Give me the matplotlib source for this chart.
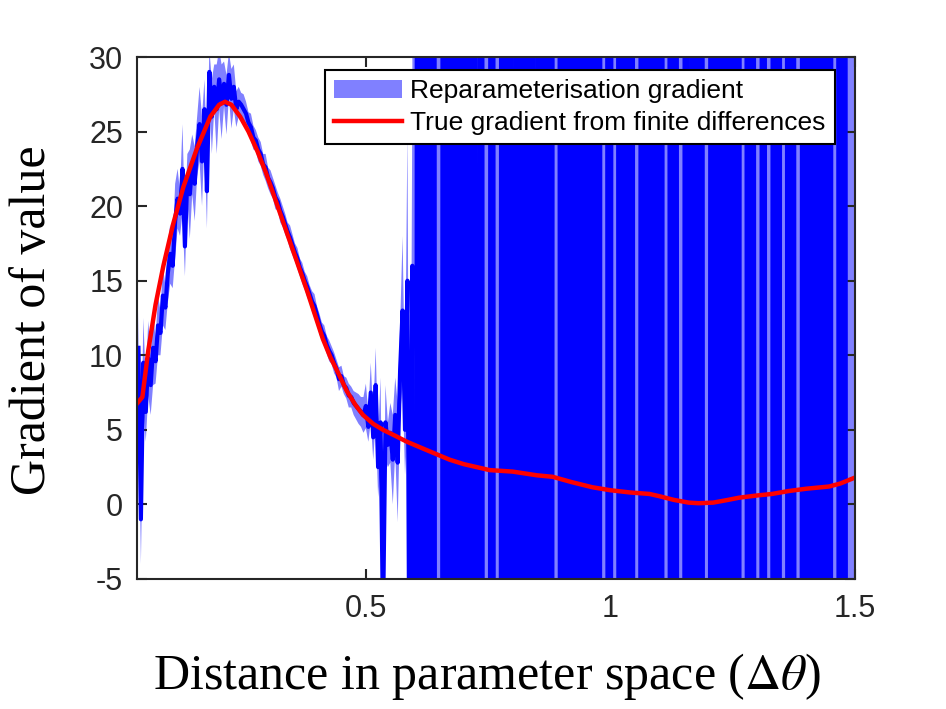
import numpy as np
import matplotlib.pyplot as plt

plt.rcParams['font.family'] = 'Liberation Sans'
plt.rcParams['mathtext.fontset'] = 'stix'
plt.rcParams['axes.unicode_minus'] = False

# sampled distances (smooth part, then the part where the estimator blows up)
dist_smooth = np.linspace(0.035, 0.595, 113)
dist_noisy = np.linspace(0.6, 1.5, 121)

# reparameterisation gradient: mean and spread
grad_mean_smooth = [
    10.5, -1.0, 9.5, 6.2, 9.8, 8.0, 10.5, 9.6, 12.0, 11.5,
    14.0, 13.2, 15.5, 16.8, 16.0, 19.0, 20.5, 19.5, 22.5, 17.3,
    22.0, 20.8, 22.8, 21.5, 24.0, 25.5, 23.0, 26.5, 21.0, 29.0,
    26.0, 28.0, 26.5, 28.5, 27.0, 28.2, 26.8, 28.8, 27.2, 28.0,
    26.5, 27.0, 26.8, 26.5, 26.2, 25.6, 25.3, 24.6, 24.4, 23.8,
    23.5, 22.8, 22.6, 21.9, 21.6, 21.2, 20.6, 20.3, 19.7, 19.3,
    18.8, 18.3, 17.9, 17.4, 16.9, 16.5, 15.9, 15.5, 15.0, 14.6,
    14.1, 13.6, 13.3, 12.7, 12.1, 11.6, 11.3, 10.7, 10.3, 10.0,
    9.5, 9.1, 8.4, 8.6, 8.0, 7.8, 7.3, 7.2, 6.8, 6.6,
    6.4, 6.2, 6.0, 6.6, 5.2, 7.5, 4.5, 8.0, 2.5, 5.5,
    -8.0, 5.5, 4.0, 4.8, 3.0, 6.0, 2.8, 9.0, 13.0, 5.0,
    15.0, -20.0, 16.0,
]
grad_spread_smooth = [
    2.5, 3.0, 3.0, 2.0, 2.5, 2.0, 2.5, 1.5, 2.0, 1.5,
    2.0, 1.5, 2.0, 2.0, 1.5, 2.5, 2.0, 1.5, 3.0, 2.0,
    1.5, 3.0, 2.0, 2.5, 2.0, 2.5, 3.0, 2.0, 2.5, 1.5,
    2.5, 1.5, 3.0, 2.0, 2.5, 1.5, 2.0, 1.5, 2.0, 1.5,
    1.2, 1.0, 0.8, 1.0, 0.8, 0.7, 0.9, 0.8, 0.7, 0.8,
    0.8, 0.7, 0.9, 0.7, 0.8, 0.7, 0.8, 0.6, 0.8, 0.7,
    0.7, 0.6, 0.8, 0.7, 0.6, 0.7, 0.6, 0.7, 0.6, 0.7,
    0.6, 0.7, 0.8, 0.6, 0.7, 0.6, 0.7, 0.6, 0.7, 0.6,
    0.7, 0.6, 0.8, 0.7, 0.6, 0.7, 0.8, 0.7, 0.8, 0.9,
    1.0, 1.0, 1.2, 1.5, 1.0, 2.0, 1.5, 2.5, 2.0, 3.0,
    3.0, 2.5, 1.5, 2.0, 3.0, 2.5, 4.0, 3.0, 5.0, 3.0,
    10.0, 8.0, 12.0,
]
grad_mean_noisy = [
    -290, 310, -280, 330, -300, 270, -320, -290, 300, -310,
    280, -300, 320, -270, 310, -290, 300, -330, 280, -300,
    -310, 290, -300, -280, 320, -290, 300, -310, 270, -300,
    310, -290, 300, -320, 280, -300, 290, -310, 300, 320,
    -290, 300, -310, 280, -300, 330, -290, 300, -280, 310,
    -300, 290, 310, -300, 280, 300, -320, 290, -300, 310,
    -290, -300, 320, -280, 300, -310, 290, -300, 310, 280,
    -300, 290, -310, -290, 300, -320, 280, -300, 310, -290,
    -300, 310, -280, 300, -290, 320, -300, 290, -310, 300,
    280, -300, 310, -290, -300, 290, -310, -280, 300, -300,
    290, 310, -300, 280, -320, -290, 300, -310, 290, -300,
    310, -280, 300, -290, 320, 300, -310, 290, -300, -290,
    -310,
]
grad_spread_noisy = [
    700, 680, 720, 690, 710, 700, 730, 690, 700, 680,
    710, 700, 690, 720, 700, 680, 710, 700, 690, 720,
    700, 710, 680, 700, 720, 690, 700, 710, 680, 700,
    690, 720, 700, 680, 710, 700, 690, 720, 700, 710,
    680, 700, 720, 690, 700, 710, 680, 700, 690, 720,
    700, 710, 680, 700, 720, 690, 700, 710, 680, 700,
    690, 720, 700, 680, 710, 700, 690, 720, 700, 710,
    680, 700, 720, 690, 700, 710, 680, 700, 690, 720,
    700, 710, 680, 700, 720, 690, 700, 710, 680, 700,
    690, 720, 700, 680, 710, 700, 690, 720, 700, 710,
    680, 700, 720, 690, 700, 710, 680, 700, 690, 720,
    700, 710, 680, 700, 720, 690, 700, 710, 680, 700,
    700,
]

# true gradient from finite differences
true_dist = [0.033, 0.043, 0.055, 0.070, 0.086, 0.106, 0.127, 0.155, 0.182, 0.200,
             0.212, 0.225, 0.243, 0.260, 0.278, 0.295, 0.310, 0.345, 0.380, 0.412,
             0.427, 0.445, 0.461, 0.478, 0.494, 0.515, 0.535, 0.560, 0.584, 0.620,
             0.671, 0.700, 0.753, 0.800, 0.850, 0.882, 0.920, 0.963, 1.000, 1.040,
             1.080, 1.100, 1.130, 1.160, 1.180, 1.210, 1.240, 1.263, 1.300, 1.330,
             1.365, 1.400, 1.447, 1.470, 1.500]
true_grad = [6.8, 7.2, 10.3, 13.4, 16.0, 18.8, 21.3, 23.9, 26.0, 26.8,
             27.0, 26.8, 26.0, 25.0, 23.7, 22.3, 20.9, 17.6, 14.3, 11.1,
             9.9, 8.7, 7.6, 6.7, 6.0, 5.4, 5.0, 4.6, 4.2, 3.7,
             3.0, 2.7, 2.3, 2.2, 1.95, 1.85, 1.5, 1.15, 0.95, 0.8,
             0.7, 0.55, 0.3, 0.12, 0.08, 0.12, 0.3, 0.45, 0.6, 0.7,
             0.9, 1.05, 1.2, 1.4, 1.8]

dist = np.concatenate([dist_smooth, dist_noisy])
mean = np.concatenate([grad_mean_smooth, grad_mean_noisy])
spread = np.concatenate([grad_spread_smooth, grad_spread_noisy])

fig = plt.figure(figsize=(9.46, 7.09), dpi=100)
ax = fig.add_axes([0.1448, 0.1834, 0.759, 0.7362])

band = ax.fill_between(dist, mean - spread, mean + spread, color='#8080ff',
                       linewidth=0, label='Reparameterisation gradient')
ax.plot(dist, mean, color='#0000ff', linewidth=3.0)
true_line, = ax.plot(true_dist, true_grad, color='#ff0000', linewidth=3.2,
                     label='True gradient from finite differences')

ax.set_xlim(0.032, 1.5)
ax.set_ylim(-5, 30)
ax.set_xticks([0.5, 1, 1.5])
ax.set_xticklabels(['0.5', '1', '1.5'])
ax.set_yticks(range(-5, 31, 5))

for side in ax.spines.values():
    side.set_color('#262626')
    side.set_linewidth(1.5)
    side.set_zorder(5)
ax.tick_params(direction='in', length=7, width=1.5, color='#262626',
               top=True, right=True, labelsize=22, labelcolor='#262626')
ax.tick_params(axis='x', pad=11)
ax.tick_params(axis='y', pad=10)

fig.text(33 / 946, 1 - 320 / 709, 'Gradient of value', rotation=90,
         ha='center', va='center', fontsize=36, family='Liberation Serif')
fig.text(487 / 946, 1 - 677 / 709, r'Distance in parameter space ($\Delta\theta$)',
         ha='center', va='center', fontsize=36, family='Liberation Serif')

leg = ax.legend(handles=[band, true_line], loc='upper right',
                bbox_to_anchor=(835 / 946, 1 - 70 / 709),
                bbox_transform=fig.transFigure, fontsize=19,
                frameon=True, fancybox=False, framealpha=1, edgecolor='black',
                borderaxespad=0, handlelength=2.6, handletextpad=0.3,
                labelspacing=0.3, borderpad=0.35)
leg.get_frame().set_linewidth(1.5)
leg.set_zorder(10)

fig.savefig('out.png', dpi=100)
